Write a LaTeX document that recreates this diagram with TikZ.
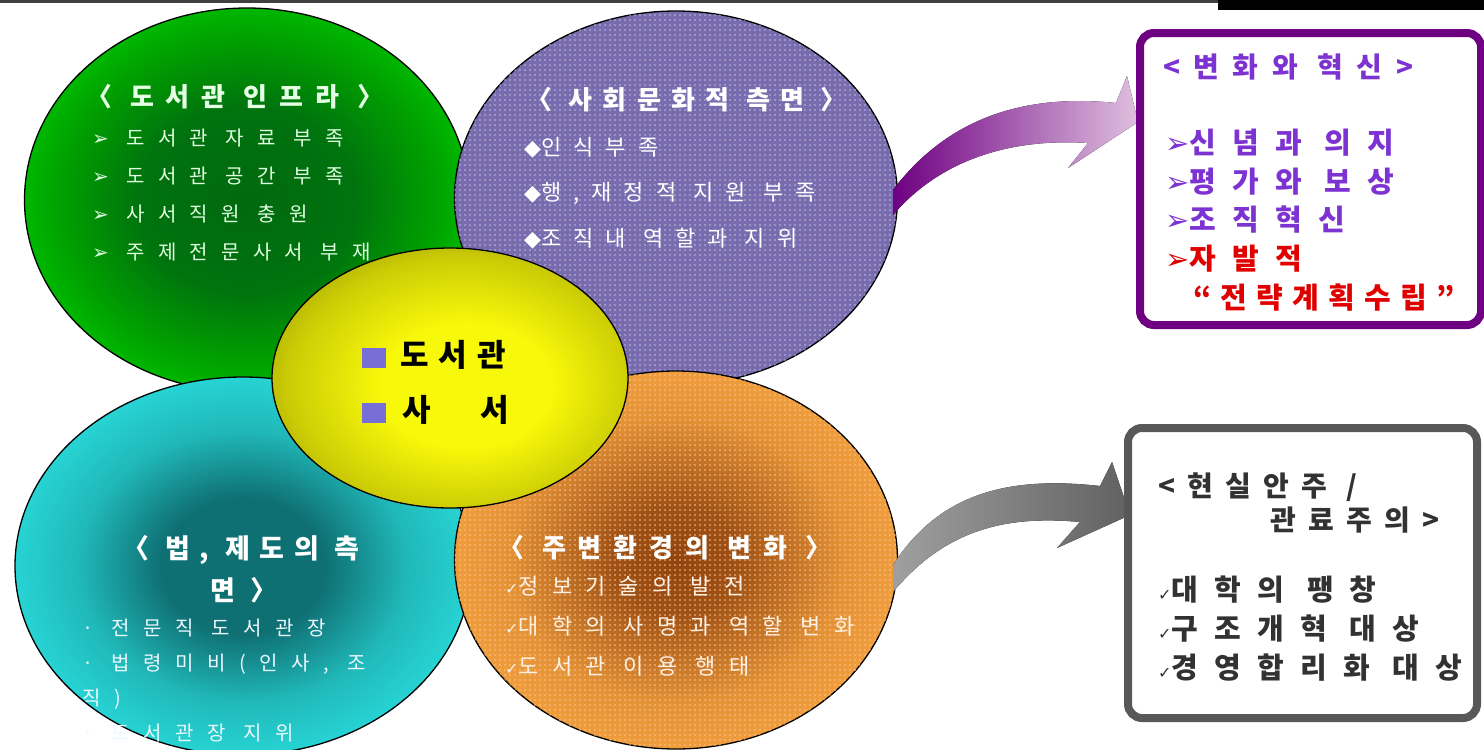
\documentclass[tikz,border=0pt]{standalone}
\usepackage{fontspec}
\setmainfont{Noto Sans CJK KR}
\newfontfamily\symfont{DejaVu Sans}
\usetikzlibrary{shapes.geometric,patterns.meta}

\definecolor{infralight}{RGB}{0,200,0}
\definecolor{infradark}{RGB}{0,105,15}
\definecolor{socialviolet}{RGB}{120,108,174}
\definecolor{lawlight}{RGB}{40,215,215}
\definecolor{lawdark}{RGB}{15,112,115}
\definecolor{envlight}{RGB}{242,160,62}
\definecolor{envdark}{RGB}{145,68,15}
\definecolor{corelight}{RGB}{248,248,10}
\definecolor{coredark}{RGB}{140,140,0}
\definecolor{boxpurple}{RGB}{110,0,130}
\definecolor{textviolet}{RGB}{125,50,210}
\definecolor{textred}{RGB}{225,0,0}
\definecolor{boxgray}{RGB}{88,88,88}
\definecolor{textgray}{RGB}{50,50,50}
\definecolor{iconblue}{RGB}{120,110,215}

\pgfdeclareradialshading{infraglow}{\pgfpoint{0bp}{0bp}}{color(0bp)=(infradark); color(12bp)=(infradark!90!infralight); color(21bp)=(infralight!80!black); color(28bp)=(infralight); color(50bp)=(infralight)}
\pgfdeclareradialshading{lawglow}{\pgfpoint{0bp}{0bp}}{color(0bp)=(lawdark); color(9bp)=(lawdark); color(18bp)=(lawlight!70!lawdark); color(26bp)=(lawlight); color(50bp)=(lawlight)}
\pgfdeclareradialshading{envglow}{\pgfpoint{0bp}{0bp}}{color(0bp)=(envdark); color(7bp)=(envdark!85!envlight); color(19bp)=(envlight!85!envdark); color(27bp)=(envlight); color(50bp)=(envlight)}
\pgfdeclareradialshading{coreglow}{\pgfpoint{3bp}{-2bp}}{color(0bp)=(corelight); color(12bp)=(corelight); color(24bp)=(corelight!60!coredark); color(35bp)=(coredark); color(50bp)=(coredark)}

\newcommand{\arw}{{\symfont ➢}}
\newcommand{\dia}{{\symfont ◆}}
\newcommand{\chk}{{\symfont\fontsize{16}{16}\selectfont ✓}}
\newcommand{\icon}{\textcolor{iconblue}{\rule[-2pt]{24pt}{20pt}}}

\tikzset{
  blob/.style={ellipse, draw=black, line width=1.3pt, inner sep=0pt},
  dotted grid/.style={postaction={pattern={Dots[distance=5pt, radius=0.8pt]}, pattern color=#1}},
  heading/.style={anchor=west, inner sep=0pt},
  items/.style={anchor=west, inner sep=0pt, align=left},
  sidebox/.style={rounded corners=14pt, line width=8pt, fill=white}
}

\begin{document}
\begin{tikzpicture}[x=1pt, y=-1pt]
  \useasboundingbox (0,0) rectangle (1484,750);
  \fill[white] (0,0) rectangle (1484,750);

  % top edge
  \fill[black!75] (0,0) rectangle (1484,3);
  \fill[black] (1218,0) rectangle (1484,10);

  %%%%  the five circles
  \node[blob, minimum width=445pt, minimum height=384pt, shading=infraglow] (infra) at (247,200) {};
  \node[blob, minimum width=443pt, minimum height=374pt, fill=socialviolet,
        dotted grid=white!55!socialviolet] (social) at (676,198) {};
  \node[blob, minimum width=456pt, minimum height=378pt, shading=lawglow] (law) at (243,566) {};
  \node[blob, minimum width=443pt, minimum height=378pt, shading=envglow,
        dotted grid=orange!45!white] (env) at (676,560) {};
  \node[blob, minimum width=356pt, minimum height=260pt, shading=coreglow] (core) at (450,378) {};

  %%%%  texts in the circles
  \node[heading, text=green!10!white, font={\bfseries\addfontfeature{LetterSpace=46}\fontsize{26}{30}\selectfont}]
    (infrahead) at (86,97) {〈 도서관 인프라 〉};
  \node[items, text=green!12!white, font={\addfontfeature{LetterSpace=66}\fontsize{20}{38.3}\selectfont}]
    (infralist) at (92,195)
    {\arw\ 도서관 자료 부족\\ \arw\ 도서관 공간 부족\\ \arw\ 사서직원 충원\\ \arw\ 주제전문사서 부재};

  \node[heading, text=white, font={\bfseries\addfontfeature{LetterSpace=40}\fontsize{26}{30}\selectfont}]
    (socialhead) at (526,100) {〈 사회문화적 측면 〉};
  \node[items, text=white, font={\addfontfeature{LetterSpace=55}\fontsize{22}{45.5}\selectfont}]
    (sociallist) at (524,193)
    {\dia 인식부족\\ \dia 행,재정적 지원 부족\\ \dia 조직내 역할과 지위};

  \node[items, text=black, font={\bfseries\addfontfeature{LetterSpace=32}\fontsize{31}{55}\selectfont}]
    (coretext) at (362,382)
    {\icon\hspace{14pt}도서관\\ \icon\hspace{16pt}사\hspace{50pt}서};

  \node[heading, text=white, align=left, font={\bfseries\addfontfeature{LetterSpace=36}\fontsize{27}{42}\selectfont}]
    (lawhead) at (122,569) {〈 법, 제도의 측\\ \hspace*{88pt}면 〉};
  \node[items, text=cyan!8!white, font={\addfontfeature{LetterSpace=68}\fontsize{20}{35}\selectfont}]
    (lawlist) at (82,681)
    {· 전문직 도서관장\\ · 법령미비(인사, 조\\ 직)\\ · 도서관장 지위};

  \node[heading, text=white, font={\bfseries\addfontfeature{LetterSpace=46}\fontsize{26}{30}\selectfont}]
    (envhead) at (498,548) {〈 주변환경의 변화 〉};
  \node[items, text=orange!10!white, font={\addfontfeature{LetterSpace=60}\fontsize{22}{40}\selectfont}]
    (envlist) at (505,626)
    {\chk 정보기술의 발전\\ \chk 대학의 사명과 역할 변화\\ \chk 도서관 이용 행태};

  %%%%  arrows to the two boxes
  \fill[left color=boxpurple, middle color=gray!35, right color=violet!25]
    (893,215) .. controls (940,160) and (1010,138) .. (1088,143) -- (1068,168)
    -- (1138,122) -- (1127,76) -- (1116,103)
    .. controls (1010,92) and (940,128) .. (893,190) -- cycle;
  \fill[left color=gray!75, right color=black!62]
    (893,592) .. controls (945,530) and (1005,515) .. (1080,522) -- (1057,548)
    -- (1130,515) -- (1112,462) -- (1100,486)
    .. controls (1010,476) and (940,492) .. (893,565) -- cycle;

  %%%%  boxes
  \draw[sidebox, draw=boxpurple] (1140,33) rectangle (1481,325);
  \node[heading, text=textviolet, font={\bfseries\addfontfeature{LetterSpace=48}\fontsize{28}{30}\selectfont}]
    (changehead) at (1163,67) {<변화와 혁신>};
  \node[items, font={\bfseries\addfontfeature{LetterSpace=56}\fontsize{29}{38.8}\selectfont}]
    (changelist) at (1165,220)
    {\textcolor{textviolet}{\arw 신념과 의지}\\ \textcolor{textviolet}{\arw 평가와 보상}\\
     \textcolor{textviolet}{\arw 조직혁신}\\ \textcolor{textred}{\arw 자발적}\\
     \hspace*{28pt}{\addfontfeature{LetterSpace=32}\textcolor{textred}{“전략계획수립”}}};

  \draw[sidebox, draw=boxgray] (1128,428) rectangle (1477,718);
  \node[items, text=textgray, font={\bfseries\addfontfeature{LetterSpace=44}\fontsize{28}{34}\selectfont}]
    (inertiahead) at (1158,503) {<현실안주 /\\ \hspace*{112pt}관료주의>};
  \node[items, text=textgray, font={\bfseries\addfontfeature{LetterSpace=56}\fontsize{29}{39}\selectfont}]
    (inertialist) at (1158,629)
    {\chk 대학의 팽창\\ \chk 구조개혁 대상\\ \chk 경영합리화 대상};
\end{tikzpicture}
\end{document}
